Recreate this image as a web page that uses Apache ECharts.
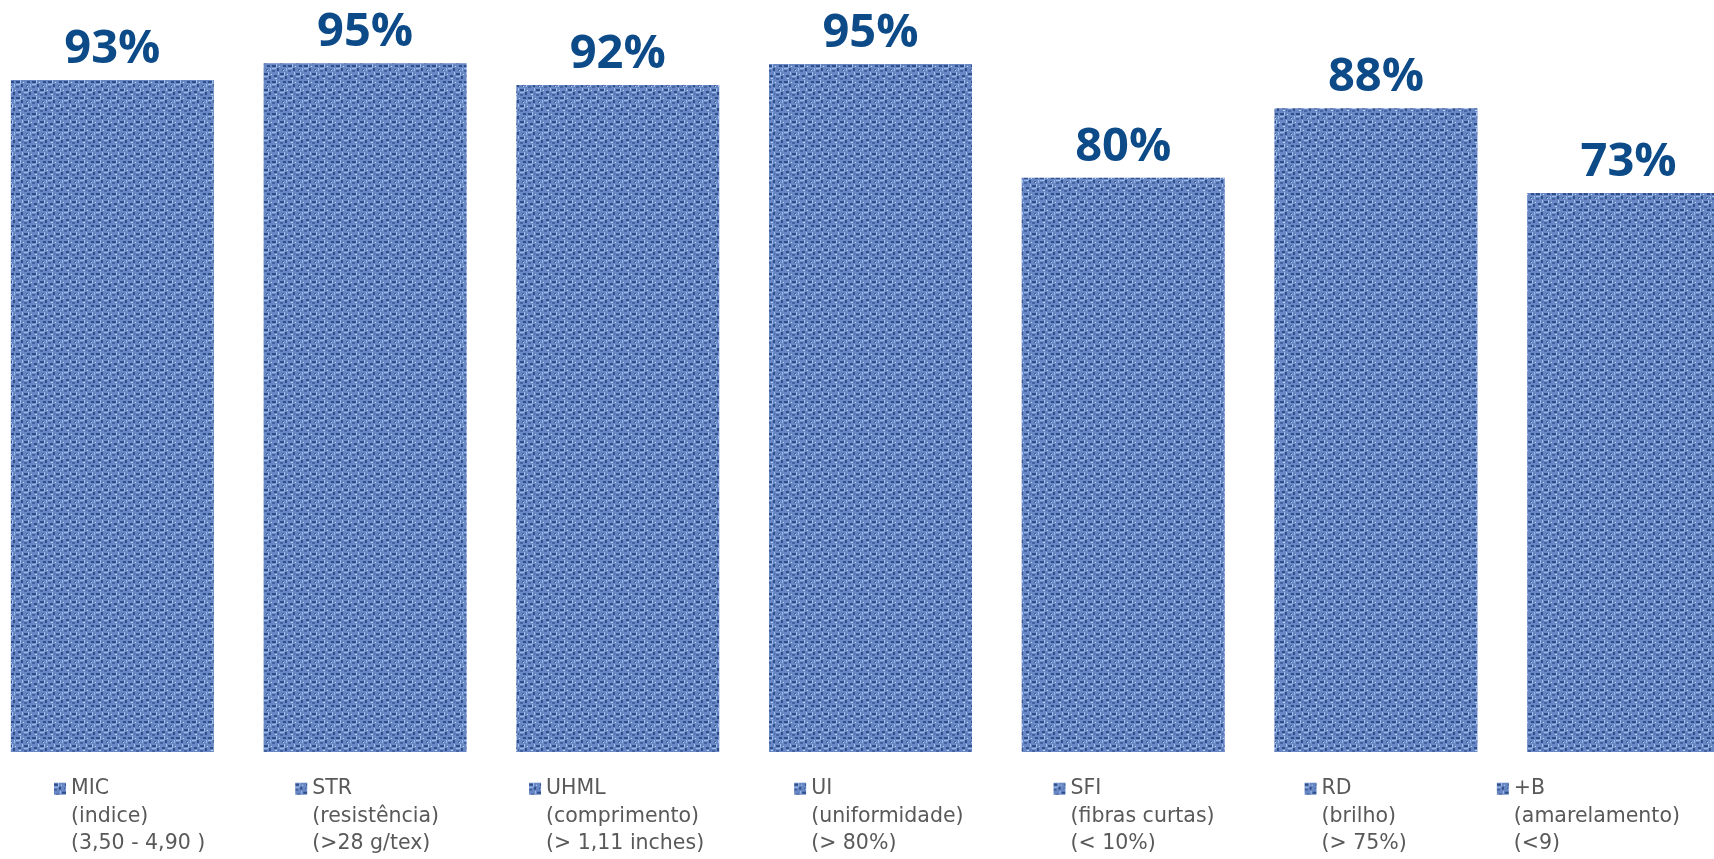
<!DOCTYPE html>
<html>
<head>
<meta charset="utf-8">
<script src="https://cdn.jsdelivr.net/npm/echarts@6/dist/echarts.min.js"></script>
<style>
  html, body { margin: 0; padding: 0; background: #ffffff; }
  #chart { width: 1714px; height: 859px; }
</style>
</head>
<body>
<div id="chart"></div>
<script>
// ---- data ----
const categories = [
  'MIC\n(indice)\n(3,50 - 4,90 )',
  'STR\n(resistência)\n(>28 g/tex)',
  'UHML\n(comprimento)\n(> 1,11 inches)',
  'UI\n(uniformidade)\n(> 80%)',
  'SFI\n(fibras curtas)\n(< 10%)',
  'RD\n(brilho)\n(> 75%)',
  '+B\n(amarelamento)\n(<9)'
];
const values = [92.7, 95.0, 92.0, 94.9, 79.2, 88.8, 77.1];
const valueLabels = ['93%', '95%', '92%', '95%', '80%', '88%', '73%'];

// ---- woven texture fill ----
function makeTexture() {
  const S = 16;
  const c = document.createElement('canvas');
  c.width = S; c.height = S;
  const g = c.getContext('2d');
  g.fillStyle = '#6788c5';
  g.fillRect(0, 0, S, S);
  // dark navy threads
  g.fillStyle = '#2f4f8a';
  g.fillRect(0, 1, 4, 2); g.fillRect(8, 9, 4, 2);
  g.fillRect(5, 4, 2, 3); g.fillRect(13, 12, 2, 3);
  g.fillRect(11, 1, 3, 2); g.fillRect(2, 11, 3, 2);
  g.fillStyle = '#46649f';
  g.fillRect(0, 6, 3, 2); g.fillRect(8, 14, 3, 2);
  g.fillRect(10, 5, 2, 2); g.fillRect(6, 13, 1, 2);
  // light highlights
  g.fillStyle = '#a3bdeb';
  g.fillRect(4, 0, 1, 4); g.fillRect(12, 8, 1, 4);
  g.fillRect(0, 4, 4, 1); g.fillRect(8, 12, 4, 1);
  g.fillRect(14, 4, 1, 3); g.fillRect(6, 8, 1, 3);
  g.fillStyle = '#c4d7f6';
  g.fillRect(7, 2, 1, 1); g.fillRect(15, 10, 1, 1);
  g.fillRect(3, 14, 2, 1); g.fillRect(11, 6, 1, 1);
  return c;
}
const texture = { image: makeTexture(), repeat: 'repeat' };

const series = categories.map((name, i) => ({
  name: name,
  type: 'bar',
  barWidth: 203,
  barGap: '-100%',
  data: values.map((v, j) => (j === i ? v : '-')),
  itemStyle: { color: texture },
  label: {
    show: true,
    position: 'top',
    distance: 7,
    formatter: () => valueLabels[i],
    fontFamily: 'Open Sans',
    fontWeight: 'bold',
    fontSize: 47,
    color: '#0c4a88'
  },
  emphasis: { disabled: true },
  animation: false
}));

const chart = echarts.init(document.getElementById('chart'), null, { renderer: 'canvas' });
chart.setOption({
  backgroundColor: '#ffffff',
  animation: false,
  grid: { left: -14, width: 1769, top: 27, bottom: 107, containLabel: false, outerBoundsMode: 'none' },
  xAxis: {
    type: 'category',
    data: categories,
    show: false
  },
  yAxis: { type: 'value', min: 0, max: 100, show: false },
  legend: {
    data: categories,
    left: 54,
    top: 720,
    padding: 0,
    orient: 'horizontal',
    itemGap: 90,
    itemWidth: 12,
    itemHeight: 12,
    icon: 'rect',
    selectedMode: false,
    formatter: (name) => '\n\n' + name,
    textStyle: {
      fontFamily: 'DejaVu Sans',
      fontSize: 20.5,
      lineHeight: 27.5,
      color: '#595959'
    }
  },
  series: series
});
</script>
</body>
</html>
